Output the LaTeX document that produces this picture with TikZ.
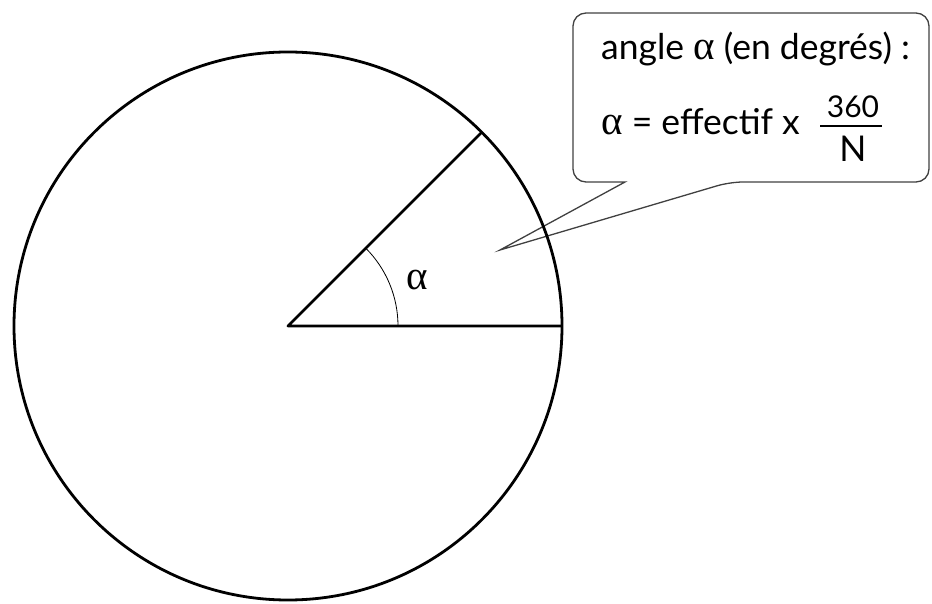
\documentclass[tikz,border=0pt]{standalone}
\usepackage{fontspec}
\setmainfont{Lato}
\newfontfamily\grk{Liberation Serif}
\newcommand{\alp}{{\grk\fontsize{41}{41}\selectfont α}}
\begin{document}
\begin{tikzpicture}[x=1pt,y=1pt,
  thick line/.style={line width=2.8pt, line join=round},
  callout line/.style={line width=1.3pt, draw=black!75},
  lbl/.style={inner sep=0pt, font=\fontsize{35.5}{40}\selectfont},
  small lbl/.style={inner sep=0pt, font=\fontsize{30}{34}\selectfont}]
\useasboundingbox (0,0) rectangle (932,603);
\coordinate (O) at (288,277);
\coordinate (A) at (481.7,470.7);
\coordinate (B) at (562,277);
\coordinate (T) at (500,353);
% callout
\draw[callout line, rounded corners=13pt] (625,421) -- (573,421) -- (573,590) -- (929,590) -- (929,421) -- (730,421) [sharp corners] -- (T) -- cycle;
% circle and sector
\draw[thick line] (O) circle (274pt);
\draw[thick line] (A) -- (O) -- (B);
\draw[line width=0.8pt] (O) ++(110pt,0) arc[start angle=0, end angle=45, radius=110pt];
\node[lbl] (alpha) at (417,323) {\alp};
% texts
\node[lbl, anchor=base west] (t1) at (601,543) {angle \alp{} (en degrés) :};
\node[lbl, anchor=base west] (t2) at (601,468) {\alp{} = effectif x};
\node[small lbl, anchor=base] (num) at (853,485) {360};
\node[lbl, anchor=base] (den) at (853,441) {N};
\draw[line width=1.2pt] (820,477) -- (882,477);
\end{tikzpicture}
\end{document}
